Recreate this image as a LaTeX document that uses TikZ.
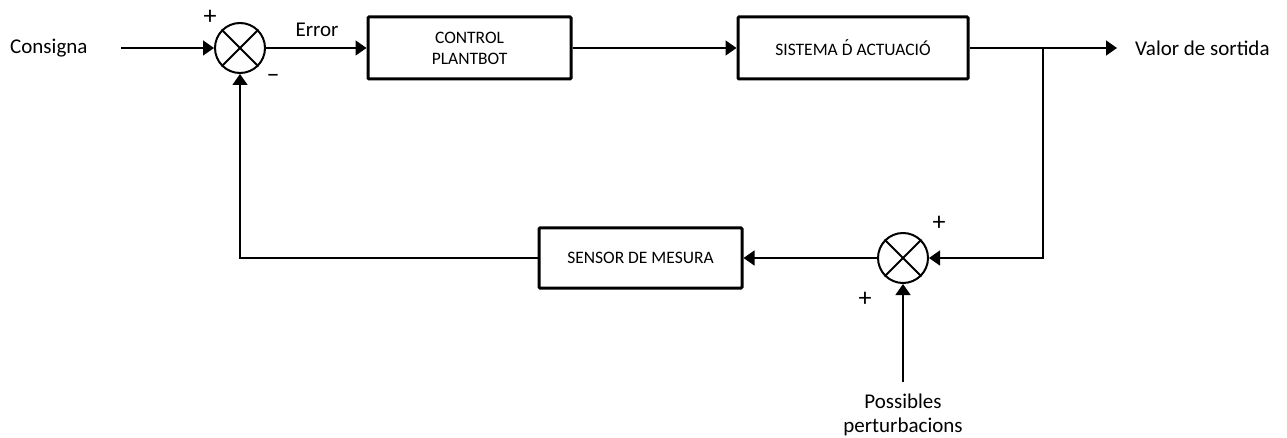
\documentclass[tikz,border=0pt]{standalone}
\usepackage{fontspec}
\setmainfont{Carlito}
\usetikzlibrary{arrows.meta}
\newcommand{\Dacute}{\ooalign{D\cr\hidewidth\raisebox{0.22em}{\char"00B4}\hidewidth\cr}}
\tikzset{
  blk/.style={draw, line width=3pt, rounded corners=1pt, align=center, font=\fontsize{17.5}{21}\selectfont, inner sep=0pt},
  sumj/.style={draw, circle, line width=2pt, minimum size=50pt, inner sep=0pt},
  arr/.style={line width=1.4pt, -{Triangle[length=11pt,width=15pt]}},
  lbl/.style={font=\fontsize{21}{25}\selectfont, inner sep=0pt},
  sgn/.style={font=\fontsize{26}{28}\selectfont, inner sep=0pt}
}
\begin{document}
\begin{tikzpicture}[x=1pt,y=-1pt]
\useasboundingbox (0,0) rectangle (1287,438);
% blocks
\node[blk, minimum width=203pt, minimum height=62pt] (ctrl) at (469.5,48) {CONTROL\\PLANTBOT};
\node[blk, minimum width=230pt, minimum height=62pt] (sist) at (853,48) {SISTEMA \Dacute{} ACTUACIÓ};
\node[blk, minimum width=203pt, minimum height=60pt] (sens) at (640.5,258) {SENSOR DE MESURA};
% summing junctions
\node[sumj] (s1) at (240,48) {};
\draw[line width=2pt] (s1.north west) -- (s1.south east) (s1.north east) -- (s1.south west);
\node[sumj] (s2) at (903,258) {};
\draw[line width=2pt] (s2.north west) -- (s2.south east) (s2.north east) -- (s2.south west);
% texts
\node[lbl, anchor=west] (cons) at (10,48) {Consigna};
\node[lbl] (err) at (317,30) {Error};
\node[lbl, anchor=west] (out) at (1135,48) {Valor de sortida};
\node[lbl, align=center] (pert) at (903,415) {Possibles\\[-1pt]perturbacions};
\node[sgn] (p1) at (210,17) {+};
\node[sgn] (m1) at (273,78) {–};
\node[sgn] (p2) at (939,223) {+};
\node[sgn] (p3) at (865,299) {+};
% coordinates
\coordinate (cin) at (121,48);
\coordinate (oend) at (1117,48);
\coordinate (br) at (1043,48);
\coordinate (pin) at (903,382);
% connectors
\draw[arr] (cin) -- (s1.west);
\draw[arr] (s1.east) -- (ctrl.west);
\draw[arr] (ctrl.east) -- (sist.west);
\draw[arr] (sist.east) -- (oend);
\draw[arr] (br) |- (s2.east);
\draw[arr] (s2.west) -- (sens.east);
\draw[arr] (sens.west) -| (s1.south);
\draw[arr] (pin) -- (s2.south);
\end{tikzpicture}
\end{document}
